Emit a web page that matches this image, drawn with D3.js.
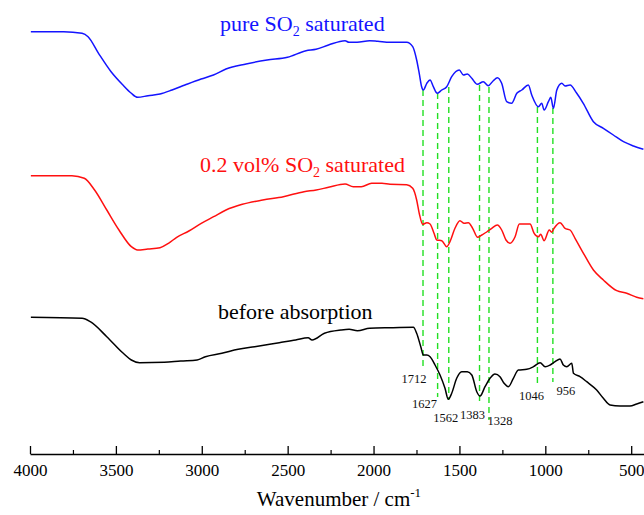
<!DOCTYPE html>
<html><head><meta charset="utf-8">
<script src="https://cdn.jsdelivr.net/npm/d3@7"></script>
<style>body{margin:0;background:#fff}svg{display:block}</style>
</head><body><svg id="chart" width="644" height="515"></svg>
<script>
// ---------- data (wavenumber in cm^-1, transmittance in offset a.u.) ----------
const pureWn = [3995,3804,3697,3662,3601,3528,3459,3412,3374,3313,3243,3173,3098,3004,2932,2859,2742,2620,2501,2393,2335,2262,2166,2143,2096,2023,1975,1904,1807,1772,1749,1734,1720,1710,1690,1671,1652,1629,1603,1574,1545,1501,1477,1454,1428,1396,1361,1332,1303,1279,1254,1225,1196,1166,1137,1099,1079,1040,1021,1007,982,968,953,933,904,885,856,817,779,720,662,604,545,487,429];
const pureT = [422.3,422.3,420.7,417.3,400.7,382.3,369,361,356.7,358.3,360,364,369,375,379,385,390,394,396.7,403.3,404.7,409,413.3,411.7,411.7,413.3,412.7,411.7,411.7,407.3,394,380.7,367.3,364,370.7,374,367.3,360.7,364,367.3,377.3,384,379,380,375.7,369.7,372.3,368.3,373.3,376.3,370.7,352.3,350.7,360.7,364,369,359,347.3,350.7,344,352.3,356.7,345.7,364,370.7,368,369,360.7,350.7,332.3,325.7,319,312.3,308,304.7];

const lowWn = [3995,3756,3684,3624,3553,3482,3410,3374,3314,3243,3194,3146,3075,3003,2931,2859,2764,2645,2525,2405,2334,2262,2166,2118,2071,2011,1951,1904,1807,1772,1749,1734,1714,1690,1671,1648,1632,1603,1574,1555,1526,1497,1473,1448,1423,1394,1370,1341,1312,1279,1254,1229,1205,1176,1151,1089,1065,1040,1027,1007,977,963,949,914,885,856,827,778,720,662,584,526,468,429];
const lowT = [278.3,278.3,275.7,264,244,224,207.3,204,205,206.3,210.7,216.7,223,230.7,237.3,244,249.7,254,257.3,262.3,264,266.7,270,267.3,267.3,270.7,270.7,269.7,269.3,265.7,254,240.7,229.7,231.3,230,220.7,214,213.3,207.3,212.3,225.7,233.3,230.7,231.3,225.7,216.7,219,222,225.7,229,224,214,210.7,217.3,230,230,220.7,217.3,219.7,213.3,224,221.7,225.7,231.3,225.7,224,215.7,200.7,184,174,163.3,160.7,156.7,155.3];

const beforeWn = [3995,3697,3649,3553,3457,3410,3362,3218,3123,3027,2979,2883,2788,2692,2549,2453,2381,2358,2286,2190,2142,2094,2023,1904,1768,1749,1725,1710,1690,1671,1642,1613,1584,1565,1545,1516,1487,1454,1428,1399,1380,1351,1322,1293,1264,1240,1215,1186,1157,1108,1069,1030,1001,972,943,914,895,875,846,836,798,759,701,662,623,565,507,468,429];
const beforeT = [136.7,135.7,132.3,117.3,100.7,94,91.3,91.7,93,94,97.3,100.7,104.7,107.3,111.3,114,116.3,114,120.7,124,124.7,123.3,125.7,126.3,126.7,120.7,107.3,99,99,97.3,89,79,65.7,54.7,60.7,75.7,82.3,82.3,79,62.3,58,67.3,75.7,80,77.3,70.7,67.3,75.7,84,84.7,87.3,91.3,87.3,89,92.3,95,89,87.3,90.7,80.7,77.3,72.3,64,55.7,49,48,48,50,52.3];

const seriesNames = ["pure SO2 saturated", "0.2 vol% SO2 saturated", "before absorption"];
const peakWn = [1712, 1627, 1562, 1383, 1328, 1046, 956];
const peakTop = [364, 361, 367, 369, 367, 347, 346];
const peakBottom = [87, 57, 54, 51, 34, 67, 72];
const majorTicks = [4000, 3500, 3000, 2500, 2000, 1500, 1000, 500];
const minorTicks = [3750, 3250, 2750, 2250, 1750, 1250, 750];

// ---------- layout ----------
const svg = d3.select("#chart");
const FONT = "'Liberation Serif','Times New Roman',serif";
const x = d3.scaleLinear().domain([4000, 400]).range([30, 30 + 3600 * 601.2 / 3500]);
const y = d3.scaleLinear().domain([0, 454]).range([454, 0]);

const series = [
  {wn: pureWn, t: pureT, color: "#1414ff"},
  {wn: lowWn, t: lowT, color: "#ff1010"},
  {wn: beforeWn, t: beforeT, color: "#000000"}
];

// dashed peak guides
const peakLabelLayout = [
  {dx: -9, val: 71}, {dx: -13, val: 46}, {dx: -3, val: 32}, {dx: -7, val: 35},
  {dx: 11, val: 29}, {dx: -6, val: 54}, {dx: 13, val: 59}
];
svg.append("g").selectAll("line").data(peakWn).join("line")
  .attr("x1", d => x(d)).attr("x2", d => x(d))
  .attr("y1", (d, i) => y(peakTop[i])).attr("y2", (d, i) => y(peakBottom[i]))
  .attr("stroke", "#22e022").attr("stroke-width", 1.4)
  .attr("stroke-dasharray", "6,4");

// spectra
const line = d3.line().x(d => x(d[0])).y(d => y(d[1])).curve(d3.curveMonotoneX);
series.forEach(s => {
  svg.append("path")
    .datum(s.wn.map((w, i) => [w, s.t[i]]))
    .attr("d", line).attr("fill", "none")
    .attr("stroke", s.color).attr("stroke-width", 1.5)
    .attr("stroke-linejoin", "round");
});

// peak labels
svg.append("g").attr("font-family", FONT).selectAll("text").data(peakWn).join("text")
  .attr("x", (d, i) => x(d) + peakLabelLayout[i].dx)
  .attr("y", (d, i) => y(peakLabelLayout[i].val))
  .attr("text-anchor", "middle")
  .attr("font-size", 12.5).attr("fill", "#111")
  .text(d => d);

// series labels with subscripts
const labelLayout = [
  {x: 220, y: 31, color: "#1414ff"},
  {x: 200, y: 172, color: "#ff1010"},
  {x: 218, y: 318.5, color: "#000"}
];
seriesNames.forEach((name, i) => {
  const L = labelLayout[i];
  const t = svg.append("text").attr("x", L.x).attr("y", L.y)
    .attr("font-family", FONT).attr("font-size", 22).attr("fill", L.color);
  const parts = name.split("SO2");
  if (parts.length === 2) {
    t.append("tspan").text(parts[0] + "SO");
    t.append("tspan").attr("font-size", 14).attr("dy", 5).text("2");
    t.append("tspan").attr("dy", -5).text(parts[1]);
  } else {
    t.text(name);
  }
});

// x axis
const axis = d3.axisBottom(x).tickValues(majorTicks).tickSize(-8).tickSizeOuter(0)
  .tickPadding(10).tickFormat(d3.format("d"));
const gx = svg.append("g").attr("transform", "translate(0,454)").call(axis)
  .attr("font-family", FONT).attr("font-size", 17);
gx.select(".domain").attr("stroke", "#000").attr("stroke-width", 1.3);
gx.selectAll(".tick line").attr("stroke", "#000").attr("stroke-width", 1.3);
gx.selectAll(".tick text").style("font-family", FONT).attr("font-size", 17).attr("fill", "#000");
const gm = svg.append("g").attr("transform", "translate(0,454)")
  .call(d3.axisBottom(x).tickValues(minorTicks).tickSize(-4).tickFormat(""));
gm.select(".domain").remove();
gm.selectAll(".tick line").attr("stroke", "#000").attr("stroke-width", 1.2);

// axis title
const at = svg.append("text").attr("x", 339).attr("y", 506).attr("text-anchor", "middle")
  .attr("font-family", FONT).attr("font-size", 21).attr("fill", "#000");
at.append("tspan").text("Wavenumber / cm");
at.append("tspan").attr("font-size", 13).attr("dy", -9).text("-1");
</script>
</body></html>
